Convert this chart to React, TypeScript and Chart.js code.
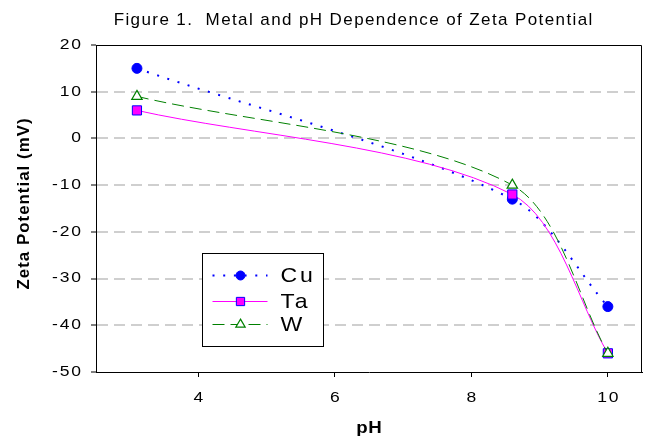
import React, { useEffect, useRef } from 'react';
import { Chart, registerables } from 'chart.js';

Chart.register(...registerables);

// ---- data ----
const pH = [3.1, 8.6, 10];
const cuValues = [15, -13, -36];
const taValues = [6, -12, -46];
const wValues = [9, -10, -46];
const xTicks = [4, 6, 8, 10];
const yTicks = [-50, -40, -30, -20, -10, 0, 10, 20];
const seriesNames = ['Cu', 'Ta', 'W'];
const chartTitle = 'Figure 1.  Metal and pH Dependence of Zeta Potential';
const xTitle = 'pH';
const yTitle = 'Zeta Potential (mV)';

const FONT = '"Liberation Sans", Arial, Helvetica, sans-serif';

type TextOpts = {
  font: string;
  sx?: number;
  ls?: number;
  align?: 'left' | 'center' | 'right';
  baseline?: CanvasTextBaseline;
  rotate?: number;
};

function drawText(ctx: CanvasRenderingContext2D, text: string, x: number, y: number, o: TextOpts) {
  const sx = o.sx ?? 1;
  const ls = o.ls ?? 0;
  ctx.save();
  ctx.font = o.font;
  (ctx as any).letterSpacing = `${ls}px`;
  ctx.fillStyle = '#000';
  ctx.textBaseline = o.baseline ?? 'middle';
  ctx.textAlign = 'left';
  const w = ctx.measureText(text).width - ls; // visible advance
  ctx.translate(x, y);
  if (o.rotate) ctx.rotate(o.rotate);
  ctx.scale(sx, 1);
  let dx = 0;
  if (o.align === 'center') dx = -w / 2;
  else if (o.align === 'right') dx = -w;
  ctx.fillText(text, dx, 0);
  ctx.restore();
}

function drawMarker(ctx: CanvasRenderingContext2D, ds: any, x: number, y: number, r: number) {
  ctx.save();
  ctx.setLineDash([]);
  ctx.lineWidth = ds.pointBorderWidth ?? 1;
  ctx.fillStyle = ds.pointBackgroundColor;
  ctx.strokeStyle = ds.pointBorderColor;
  ctx.beginPath();
  if (ds.pointStyle === 'circle') {
    ctx.arc(x, y, r, 0, Math.PI * 2);
  } else if (ds.pointStyle === 'rect') {
    const s = Math.SQRT1_2 * r;
    ctx.rect(x - s, y - s, 2 * s, 2 * s);
  } else if (ds.pointStyle === 'triangle') {
    ctx.moveTo(x, y - r);
    ctx.lineTo(x + r * Math.sin(Math.PI / 3), y + r * 0.5);
    ctx.lineTo(x - r * Math.sin(Math.PI / 3), y + r * 0.5);
    ctx.closePath();
  }
  ctx.fill();
  ctx.stroke();
  ctx.restore();
}

const decorPlugin = {
  id: 'decor',
  afterDraw(chart: any) {
    const { ctx, chartArea, scales } = chart;
    const L = Math.round(chartArea.left) + 0.5;
    const R = Math.round(chartArea.right) - 0.5;
    const T = Math.round(chartArea.top) + 0.5;
    ctx.save();
    // frame top & right
    ctx.strokeStyle = '#000';
    ctx.lineWidth = 1;
    ctx.setLineDash([]);
    ctx.beginPath();
    ctx.moveTo(L, T);
    ctx.lineTo(R, T);
    ctx.lineTo(R, chartArea.bottom);
    ctx.stroke();

    // title
    drawText(ctx, chartTitle, 353, 20, { font: `17px ${FONT}`, ls: 1.4, align: 'center' });

    // y tick labels
    yTicks.forEach((v) => {
      const py = scales.y.getPixelForValue(v);
      drawText(ctx, String(v), chartArea.left - 15, py, {
        font: `14px ${FONT}`,
        sx: 1.25,
        ls: 1.5,
        align: 'right',
      });
    });
    // x tick labels
    xTicks.forEach((v) => {
      const px = scales.x.getPixelForValue(v);
      drawText(ctx, String(v), px, chartArea.bottom + 30, {
        font: `14px ${FONT}`,
        sx: 1.25,
        ls: 1.5,
        align: 'center',
        baseline: 'alphabetic',
      });
    });
    // axis titles
    drawText(ctx, xTitle, (chartArea.left + chartArea.right) / 2, 433, {
      font: `bold 17px ${FONT}`,
      sx: 1.1,
      ls: 0.5,
      align: 'center',
      baseline: 'alphabetic',
    });
    drawText(ctx, yTitle, 24.5, 204, {
      font: `bold 16px ${FONT}`,
      sx: 1.05,
      ls: 1.0,
      align: 'center',
      baseline: 'middle',
      rotate: -Math.PI / 2,
    });

    // legend box
    const bx = Math.round(chartArea.left) + 106 + 0.5;
    const by = Math.round(chartArea.top) + 208 + 0.5;
    const bw = 121;
    const bh = 93;
    ctx.fillStyle = '#fff';
    ctx.fillRect(bx, by, bw, bh);
    ctx.strokeStyle = '#000';
    ctx.lineWidth = 1;
    ctx.strokeRect(bx, by, bw, bh);

    const rowsY = [by + 21, by + 47, by + 70];
    const datasets = chart.data.datasets;
    seriesNames.forEach((name, i) => {
      const ds = datasets.find((d: any) => d.label === name);
      const y = Math.round(rowsY[i]) + 0.5;
      ctx.save();
      ctx.strokeStyle = ds.borderColor;
      ctx.lineWidth = ds.borderWidth;
      ctx.setLineDash(ds.borderDash || []);
      ctx.beginPath();
      ctx.moveTo(bx + 10, y);
      ctx.lineTo(bx + 65, y);
      ctx.stroke();
      ctx.restore();
      drawMarker(ctx, ds, bx + 38, y, ds.pointRadius * 0.9);
      drawText(ctx, name, bx + 78, y + 1, { font: `21px ${FONT}`, sx: 1.1, ls: 2.5, align: 'left' });
    });
    ctx.restore();
  },
};

export default function App() {
  const ref = useRef<HTMLCanvasElement | null>(null);

  useEffect(() => {
    if (!ref.current) return;
    const mk = (arr: number[]) => pH.map((x, i) => ({ x, y: arr[i] }));
    const chart = new Chart(ref.current, {
      type: 'line',
      data: {
        datasets: [
          {
            label: 'Cu',
            data: mk(cuValues),
            borderColor: '#0000ff',
            borderWidth: 2,
            borderDash: [2, 8.7],
            borderCapStyle: 'butt',
            pointStyle: 'circle',
            pointRadius: 5,
            pointBackgroundColor: '#0000ff',
            pointBorderColor: '#0000ff',
            pointBorderWidth: 1,
            tension: 0.3,
            fill: false,
            order: 2,
          },
          {
            label: 'Ta',
            data: mk(taValues),
            borderColor: '#ff00ff',
            borderWidth: 1,
            pointStyle: 'rect',
            pointRadius: 6.5,
            pointBackgroundColor: '#ff00ff',
            pointBorderColor: '#0000ff',
            pointBorderWidth: 1,
            tension: 0.3,
            fill: false,
            order: 1,
          },
          {
            label: 'W',
            data: mk(wValues),
            borderColor: '#008000',
            borderWidth: 1,
            borderDash: [12, 6],
            pointStyle: 'triangle',
            pointRadius: 6,
            pointBackgroundColor: '#ffffff',
            pointBorderColor: '#008000',
            pointBorderWidth: 1.2,
            tension: 0.3,
            fill: false,
            order: 0,
          },
        ] as any,
      },
      options: {
        responsive: false,
        animation: false,
        events: [],
        layout: { padding: { top: 45, right: 9, left: 0, bottom: 0 } },
        plugins: {
          legend: { display: false },
          title: { display: false },
          tooltip: { enabled: false },
        },
        scales: {
          x: {
            type: 'linear',
            min: 2.5,
            max: 10.5,
            afterBuildTicks: (s: any) => {
              s.ticks = xTicks.map((v) => ({ value: v }));
            },
            ticks: { display: false },
            grid: {
              drawOnChartArea: false,
              drawTicks: true,
              tickLength: 5,
              tickColor: '#000',
              tickWidth: 1,
            },
            border: { color: '#000', width: 1 },
            title: { display: false },
            afterFit: (s: any) => {
              s.height = 71;
            },
          },
          y: {
            type: 'linear',
            min: -50,
            max: 20,
            afterBuildTicks: (s: any) => {
              s.ticks = yTicks.map((v) => ({ value: v }));
            },
            ticks: { display: false },
            grid: {
              color: (c: any) =>
                c.tick && (c.tick.value === 20 || c.tick.value === -50) ? 'rgba(0,0,0,0)' : '#cfcfcf',
              lineWidth: 2,
              drawTicks: true,
              tickLength: 5,
              tickColor: '#000',
              tickWidth: 1,
              tickBorderDash: [0, 0],
            },
            border: { color: '#000', width: 1, dash: [11, 6] },
            title: { display: false },
            afterFit: (s: any) => {
              s.width = 96;
            },
          },
        },
      } as any,
      plugins: [decorPlugin],
    });
    return () => chart.destroy();
  }, []);

  return (
    <div style={{ position: 'fixed', left: 0, top: 0, width: 651, height: 443, background: '#fff' }}>
      <canvas ref={ref} width={651} height={443} style={{ width: 651, height: 443, display: 'block' }} />
    </div>
  );
}
